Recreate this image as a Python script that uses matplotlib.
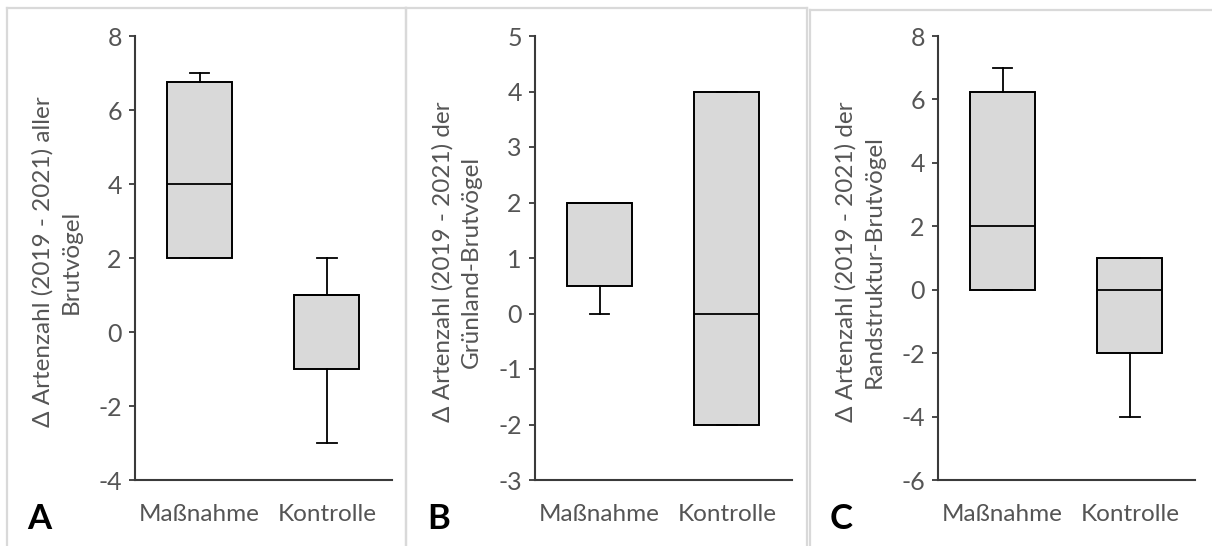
import matplotlib
matplotlib.use("Agg")
import matplotlib.pyplot as plt
from matplotlib.lines import Line2D

plt.rcParams['font.family'] = ['Lato', 'DejaVu Sans']

# ---------------- data ----------------
categories = ["Maßnahme", "Kontrolle"]
panel_letters = ["A", "B", "C"]
ylabels = [
    "Δ Artenzahl (2019 - 2021) aller\nBrutvögel",
    "Δ Artenzahl (2019 - 2021) der\nGrünland-Brutvögel",
    "Δ Artenzahl (2019 - 2021) der\nRandstruktur-Brutvögel",
]
# box statistics per panel: [Maßnahme, Kontrolle]
a_whislo = [2, -3]
a_q1 = [2, -1]
a_med = [4, 1]
a_q3 = [6.75, 1]
a_whishi = [7, 2]

b_whislo = [0, -2]
b_q1 = [0.5, -2]
b_med = [2, 0]
b_q3 = [2, 4]
b_whishi = [2, 4]

c_whislo = [0, -4]
c_q1 = [0, -2]
c_med = [2, 0]
c_q3 = [6.25, 1]
c_whishi = [7, 1]

a_yticks = [-4, -2, 0, 2, 4, 6, 8]
b_yticks = [-3, -2, -1, 0, 1, 2, 3, 4, 5]
c_yticks = [-6, -4, -2, 0, 2, 4, 6, 8]

panels = [
    (a_whislo, a_q1, a_med, a_q3, a_whishi, a_yticks),
    (b_whislo, b_q1, b_med, b_q3, b_whishi, b_yticks),
    (c_whislo, c_q1, c_med, c_q3, c_whishi, c_yticks),
]

# ---------------- layout ----------------
W, H = 1212, 546
fig = plt.figure(figsize=(W / 100, H / 100), dpi=100)
fig.patch.set_facecolor("white")

GRAY_TXT = "#555555"
AX_COL = "#3a3a3a"
FS = 17.5
offsets = [0, 400, 803]
border_left = [7, 406, 810]
border_top = [8, 8, 10]
border_right = [406, 807, 1215]

def fx(px):
    return px / W

def fy(py):
    return 1 - py / H

# panel borders
for i in range(3):
    l, t, r = border_left[i], border_top[i], border_right[i]
    for xs, ys in [([l, l], [t, H + 5]), ([l, r], [t, t]), ([r, r], [t, H + 5])]:
        fig.add_artist(Line2D([fx(x) for x in xs], [fy(y) for y in ys],
                              color="#d9d9d9", lw=1.6, transform=fig.transFigure))

for i, (wlo, q1, med, q3, whi, yt) in enumerate(panels):
    off = offsets[i]
    left, right, top, bottom = 135 + off, 392 + off, 36, 480
    ax = fig.add_axes([fx(left), fy(bottom), fx(right - left), (bottom - top) / H])
    stats = []
    for j, cat in enumerate(categories):
        stats.append(dict(label=cat, whislo=wlo[j], q1=q1[j], med=med[j],
                          q3=q3[j], whishi=whi[j], fliers=[]))
    ax.bxp(stats, positions=[1, 2], widths=0.51, capwidths=0.15,
           showfliers=False, patch_artist=True,
           boxprops=dict(facecolor="#d9d9d9", edgecolor="black", linewidth=1.4),
           medianprops=dict(color="black", linewidth=1.3),
           whiskerprops=dict(color="black", linewidth=1.3),
           capprops=dict(color="black", linewidth=1.3))
    ax.set_xlim(0.494, 2.51)
    ax.set_ylim(yt[0], yt[-1])
    ax.set_yticks(yt)
    ax.set_yticklabels([str(v) for v in yt])
    for s in ["top", "right"]:
        ax.spines[s].set_visible(False)
    for s in ["left", "bottom"]:
        ax.spines[s].set_color(AX_COL)
        ax.spines[s].set_linewidth(1.5)
    ax.tick_params(axis="y", direction="out", length=4.5, width=1.3, color=AX_COL,
                   labelsize=FS + 0.5, labelcolor=GRAY_TXT, pad=5)
    ax.tick_params(axis="x", length=0, labelsize=FS, labelcolor=GRAY_TXT, pad=17)
    ax.set_facecolor("none")
    # y label
    fig.text(fx(57 + off), fy((top + bottom) / 2 + 4), ylabels[i], rotation=90,
             ha="center", va="center", multialignment="center",
             fontsize=FS, color=GRAY_TXT, linespacing=1.4)
    # panel letter
    fig.text(fx(27 + off), fy(529), panel_letters[i], ha="left", va="baseline",
             fontsize=25, fontweight="bold", color="black")

fig.savefig("out.png", dpi=100, facecolor="white")
